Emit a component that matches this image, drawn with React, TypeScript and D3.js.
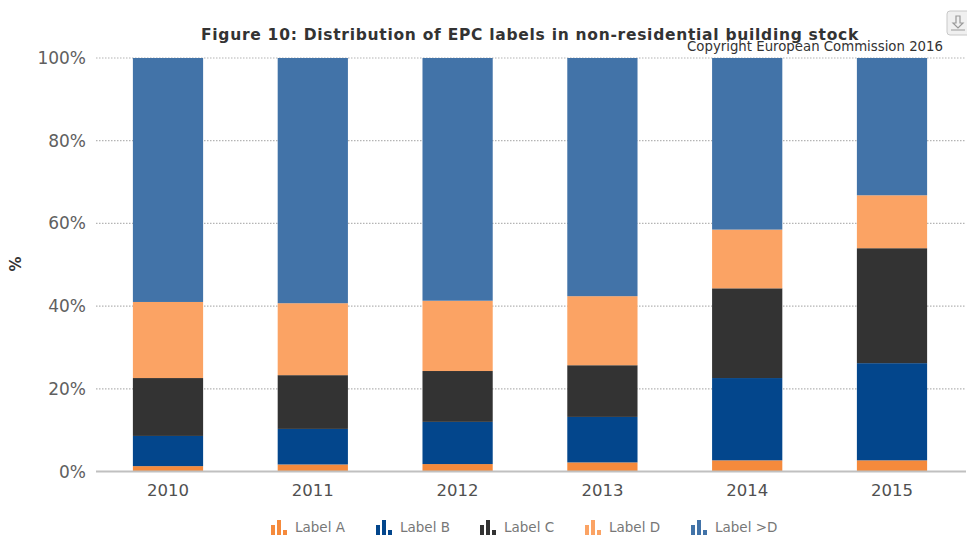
import React from "react";
import * as d3 from "d3";

const years = ["2010", "2011", "2012", "2013", "2014", "2015"];
const labelA = [1.3, 1.7, 1.8, 2.2, 2.7, 2.7];
const labelB = [7.3, 8.6, 10.2, 11.0, 19.9, 23.5];
const labelC = [14.0, 13.0, 12.3, 12.5, 21.7, 27.8];
const labelD = [18.4, 17.4, 17.0, 16.7, 14.2, 12.8];
const labelGtD = [59.0, 59.3, 58.7, 57.6, 41.5, 33.2];
const seriesNames = ["Label A", "Label B", "Label C", "Label D", "Label >D"];
const seriesColors = ["#f58a3c", "#03468c", "#333333", "#fba364", "#4273a8"];
const yTicks = [0, 20, 40, 60, 80, 100];
const legendX = [271, 376, 480, 585, 691];

const FONT = "Verdana, 'DejaVu Sans', sans-serif";

export default function App() {
  const x = d3.scaleBand().domain(years).range([95.6, 964.4]).paddingInner(0.515).paddingOuter(0.2575);
  const y = d3.scaleLinear().domain([0, 100]).range([471.5, 58]);
  const rows = years.map((year, i) => ({
    year,
    a: labelA[i], b: labelB[i], c: labelC[i], d: labelD[i], e: labelGtD[i],
  }));
  const stack = d3.stack<any>().keys(["a", "b", "c", "d", "e"])(rows);

  return (
    <svg width={967} height={541} style={{ position: "absolute", left: 0, top: 0, background: "#fff" }} fontFamily={FONT}>
      {yTicks.filter((t) => t > 0).map((t) => (
        <line key={t} x1={96} x2={966} y1={y(t)} y2={y(t)} stroke="#b4b4b4" strokeWidth={1.2} strokeDasharray="1.5 1.5" />
      ))}
      {stack.map((s, si) => (
        <g key={si} fill={seriesColors[si]}>
          {s.map((d, i) => (
            <rect key={i} x={x(years[i])} width={x.bandwidth()} y={y(d[1])} height={y(d[0]) - y(d[1])} />
          ))}
        </g>
      ))}
      <line x1={96} x2={966} y1={y(0)} y2={y(0)} stroke="#c0c0c0" strokeWidth={2} />
      {yTicks.map((t) => (
        <text key={t} x={86} y={y(t) + 6} textAnchor="end" fontSize={17} fill="#606060">{t}%</text>
      ))}
      {years.map((yr) => (
        <text key={yr} x={x(yr)! + x.bandwidth() / 2} y={496} textAnchor="middle" fontSize={16.5} fill="#505050">{yr}</text>
      ))}
      <text transform="translate(21,264) rotate(-90)" textAnchor="middle" fontSize={15} fontWeight="bold" fill="#333">%</text>
      <text x={530} y={40} textAnchor="middle" fontSize={15.5} letterSpacing={0.72} fontWeight="bold" fill="#333">Figure 10: Distribution of EPC labels in non-residential building stock</text>
      <text x={943} y={51} textAnchor="end" fontSize={13.3} fill="#333">Copyright European Commission 2016</text>
      <g>
        <rect x={947} y={11} width={24} height={24} rx={3} fill="#f0f0f0" stroke="#c8c8c8" />
        <path d="M956 16h4v7h3l-5 5-5-5h3z M951 30h14" fill="none" stroke="#999" strokeWidth={1.2} />
      </g>
      {seriesNames.map((name, i) => (
        <g key={name} transform={`translate(${legendX[i]},0)`}>
          <g fill={seriesColors[i]}>
            <rect x={0} y={525} width={4} height={10} />
            <rect x={6} y={520} width={4} height={15} />
            <rect x={12} y={530} width={4} height={5} />
          </g>
          <text x={24} y={532} fontSize={13.5} fill="#777">{name}</text>
        </g>
      ))}
    </svg>
  );
}
